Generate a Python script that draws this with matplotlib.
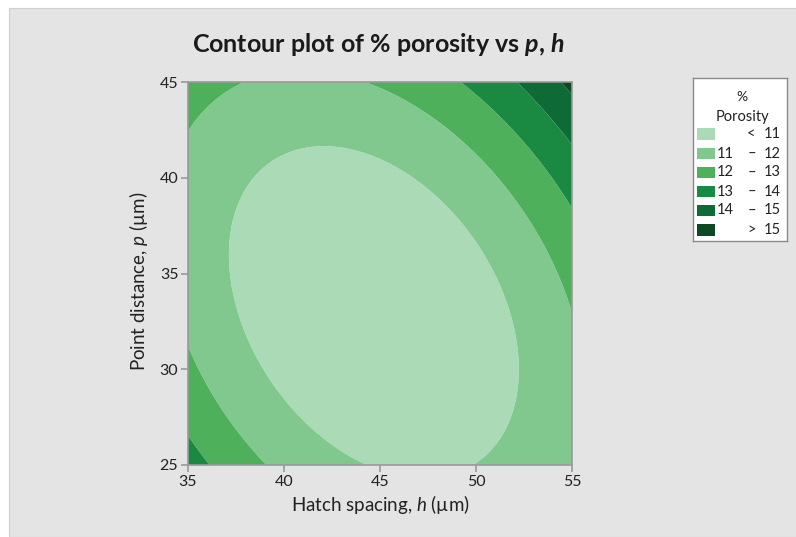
import numpy as np
import matplotlib
matplotlib.use("Agg")
import matplotlib.pyplot as plt
from matplotlib.patches import Rectangle

plt.rcParams['font.family'] = ['Lato', 'DejaVu Sans']
plt.rcParams['mathtext.fontset'] = 'custom'
plt.rcParams['mathtext.rm'] = 'Lato'
plt.rcParams['mathtext.it'] = 'Lato:italic'
plt.rcParams['mathtext.bf'] = 'Lato:bold'
plt.rcParams['mathtext.bfit'] = 'Lato:bold:italic'

# Fitted quadratic response surface (coded units x=(h-45)/10, y=(p-35)/10)
# terms: const, x, y, x^2, y^2, x*y
coef_terms = ["const", "h", "p", "h*h", "p*p", "h*p"]
coef_values = [10.17, 0.33, 0.58, 1.78, 1.35, 1.07]
h_range = [35, 55]
p_range = [25, 45]
levels = [11, 12, 13, 14, 15]
colors = ['#abdab7', '#80c88d', '#4fb05b', '#1a8a42', '#0f6b35', '#0c4a24']
x_ticks = [35, 40, 45, 50, 55]
y_ticks = [25, 30, 35, 40, 45]

fig = plt.figure(figsize=(7.96, 5.37), dpi=100, facecolor='white')
W, Hpx = 796, 537
bg = Rectangle((9 / W, 0), 1, 1 - 8 / Hpx, transform=fig.transFigure,
               facecolor='#e4e4e4', edgecolor='#d0d0d0', lw=0.8, zorder=-10)
fig.patches.append(bg)

ax = fig.add_axes([188 / W, 1 - 465 / Hpx, 384 / W, 383 / Hpx])
hh = np.linspace(h_range[0], h_range[1], 301)
pp = np.linspace(p_range[0], p_range[1], 301)
H, P = np.meshgrid(hh, pp)
X = (H - 45) / 10
Y = (P - 35) / 10
c = coef_values
Z = c[0] + c[1] * X + c[2] * Y + c[3] * X * X + c[4] * Y * Y + c[5] * X * Y
ax.contourf(H, P, Z, levels=[-1e9] + levels + [1e9], colors=colors, antialiased=True)
ax.set_xlim(h_range)
ax.set_ylim(p_range)
ax.set_xticks(x_ticks)
ax.set_yticks(y_ticks)
for s in ax.spines.values():
    s.set_color('#9a9a9a')
    s.set_linewidth(1.2)
ax.tick_params(direction='out', length=5, width=1.2, color='#9a9a9a',
               labelsize=11.5, labelcolor='#222222', pad=2)
ax.set_xlabel(r"Hatch spacing, $\mathit{h}$ (µm)", fontsize=13.5, color='#222222', labelpad=3)
ax.set_ylabel(r"Point distance, $\mathit{p}$ (µm)", fontsize=13.5, color='#222222')
ax.yaxis.set_label_coords(-0.10, 0.48)

fig.text(0.475, 1 - 45 / Hpx, r"Contour plot of % porosity vs $\mathbfit{p}$, $\mathbfit{h}$",
         fontsize=18, fontweight='bold', ha='center', va='center', color='#1a1a1a')

# legend
lax = fig.add_axes([693 / W, 1 - 241 / Hpx, 94 / W, 163 / Hpx])
lax.set_xlim(0, 94)
lax.set_ylim(163, 0)
lax.set_xticks([])
lax.set_yticks([])
lax.set_facecolor('white')
for s in lax.spines.values():
    s.set_color('#8a8a8a')
    s.set_linewidth(1.0)
fs = 10.5
lax.text(49, 19, "%", ha='center', va='center', fontsize=fs - 0.5, color='#222222')
lax.text(49, 39, "Porosity", ha='center', va='center', fontsize=fs, color='#222222')
centers = [56, 75.5, 94.5, 113.5, 132.5, 152]
for i, (cy, col) in enumerate(zip(centers, colors)):
    lax.add_patch(Rectangle((4, cy - 5.8), 18, 11.6, facecolor=col, edgecolor='none'))
    if i == 0:
        lax.text(58.5, cy, "<", ha='center', va='center', fontsize=fs, color='#222222')
        lax.text(88, cy, str(levels[0]), ha='right', va='center', fontsize=fs, color='#222222')
    elif i == len(colors) - 1:
        lax.text(58.5, cy, ">", ha='center', va='center', fontsize=fs, color='#222222')
        lax.text(88, cy, str(levels[-1]), ha='right', va='center', fontsize=fs, color='#222222')
    else:
        lax.text(41, cy, str(levels[i - 1]), ha='right', va='center', fontsize=fs, color='#222222')
        lax.text(58.5, cy, "–", ha='center', va='center', fontsize=fs, color='#222222')
        lax.text(88, cy, str(levels[i]), ha='right', va='center', fontsize=fs, color='#222222')

fig.savefig("out.png", dpi=100)
